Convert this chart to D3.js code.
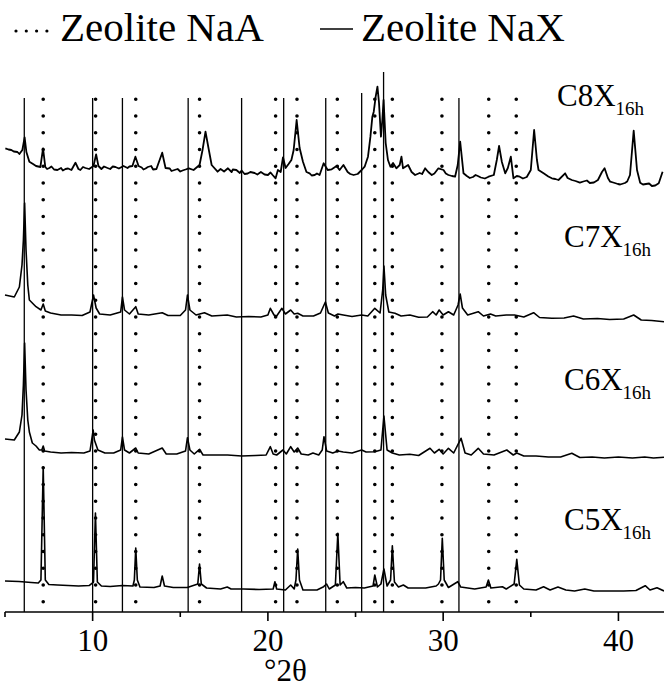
<!DOCTYPE html>
<meta charset="utf-8">
<style>
body { margin: 0; background: #fff; }
svg { display: block; }
.trace { fill: none; stroke: #000; stroke-width: 1.6px; stroke-linejoin: round; }
.trace.noisy { stroke-width: 1.8px; }
.nax { stroke: #000; stroke-width: 1.3px; }
.naa { stroke: #000; stroke-width: 3.6px; stroke-linecap: round; stroke-dasharray: 0 16.75; }
.axis line { stroke: #000; stroke-width: 1.6px; }
</style>
<svg width="664" height="688"></svg>
<script src="https://d3js.org/d3.v7.min.js"></script>
<script>
// reference line positions (deg 2theta)
var naxPeaks = [6.1, 10.0, 11.7, 15.45, 18.5, 20.9, 23.3, 25.35, 26.6, 30.9];
var naaPeaks = [7.18, 10.17, 12.46, 16.1, 20.44, 21.66, 23.96, 26.1, 27.1, 29.93, 32.6, 34.17];

var seriesNames = ["C5X", "C6X", "C7X", "C8X"];
var seriesSub = "16h";
var offsets = [0, 130, 265, 405];   // vertical stacking of patterns
var majorTicks = [10, 20, 30, 40];
var minorTicks = [5, 15, 25, 35];

// [2theta, intensity]
var c5 = [[5.0,31],[5.8,30.5],[6.5,29.5],[6.9,29],[7.05,32],[7.18,145],[7.3,32],[7.5,27.5],[8.0,27],[8.6,26.5],
  [9.2,26],[9.8,26.5],[10.05,30],[10.16,99],[10.27,30],[10.5,26],[11.0,25.5],[11.7,26.5],[12.3,26],[12.38,32],
  [12.46,64],[12.55,32],[12.7,25],[13.5,24.5],[13.85,26],[13.97,36],[14.1,26],[14.6,24.5],[15.4,24.5],[16.0,28],
  [16.1,48],[16.2,28],[16.5,24],[17.3,23],[17.68,25],[17.9,23],[18.6,23],[19.5,22.5],[20.3,23],[20.4,30.3],
  [20.5,23],[21.0,22],[21.3,27],[21.5,23],[21.6,32],[21.7,63],[21.8,32],[22.0,22],[22.8,22],[23.18,25.3],
  [23.35,28],[23.5,23],[23.85,27],[23.99,78.7],[24.12,27],[24.3,30.3],[24.5,24],[25.0,24.5],[25.5,24],[26.0,26],
  [26.1,37],[26.25,25],[26.45,28],[26.62,43],[26.8,26],[27.0,32],[27.1,66.3],[27.22,30],[27.45,25],[27.73,27],
  [28.0,24],[29.0,24],[29.6,26],[29.73,28],[29.85,32],[29.95,73.7],[30.06,32],[30.3,24.5],[30.83,30.3],[31.0,25],
  [31.8,23],[32.45,25],[32.58,32],[32.72,24],[33.38,25.3],[33.6,23],[34.05,28],[34.2,52.7],[34.35,27],[34.6,23],
  [35.3,22],[35.73,25.3],[36.1,22],[36.55,25],[37.0,22],[37.5,21],[38.08,23],[38.6,21],[39.5,21],[40.3,21],
  [41.0,21.5],[41.53,26.3],[41.8,22],[42.2,24.3],[42.6,21]];

var c6 = [[5.0,43],[5.53,42],[5.82,50],[5.97,67],[6.05,97],[6.12,139],[6.2,92],[6.3,62],[6.39,50],[6.56,39],
  [6.77,36],[6.96,32],[7.1,32],[7.18,36],[7.26,31],[7.6,30],[8.2,29],[8.8,29.5],[9.5,29],[9.85,31],
  [10.03,52],[10.1,42],[10.16,39],[10.3,32],[10.7,29],[11.2,29],[11.6,32],[11.7,45],[11.82,32],[12.1,29],
  [12.46,34],[12.6,29],[13.2,28],[13.97,34],[14.2,28],[14.8,28],[15.3,31],[15.41,44.3],[15.55,32],[15.8,28],
  [16.1,32.7],[16.3,27],[17.0,27],[17.7,27],[18.5,26],[19.3,26.5],[19.9,27],[20.14,35.3],[20.3,28],[20.5,27],
  [20.86,32],[21.05,28],[21.3,35.3],[21.5,30],[21.7,34],[21.9,28],[22.3,27],[22.57,29],[22.9,27],[23.1,32],
  [23.2,45.3],[23.35,31],[23.7,29],[24.0,31],[24.3,30],[24.8,29],[25.35,32],[25.6,30],[26.1,30.3],[26.45,32],
  [26.62,66],[26.8,32],[27.1,29],[27.5,27],[28.1,27.7],[28.6,26.5],[29.25,33.7],[29.5,29],[29.77,32.7],[30.0,28],
  [30.3,33.7],[30.6,29],[31.02,43.7],[31.25,29],[31.6,27],[32.0,33.7],[32.3,28],[32.9,27],[33.63,32],[34.0,27],
  [34.2,29],[34.6,26],[35.3,26],[36.0,25],[36.7,25],[37.34,28.7],[37.8,24.5],[38.5,25],[39.2,24],[40.0,25],
  [40.8,24],[41.5,25],[42.0,24],[42.6,24.7]];

var c7 = [[5.0,52],[5.53,50],[5.82,60],[5.97,82],[6.05,107],[6.12,144],[6.2,97],[6.3,62],[6.39,47],[6.77,40.3],
  [7.05,37],[7.18,43],[7.3,36],[7.6,34],[8.2,32],[8.8,32],[9.4,31.5],[9.85,35],[10.05,52],[10.2,39],
  [10.4,33],[11.0,32],[11.6,35],[11.7,50],[11.82,37],[12.1,33],[12.46,40.3],[12.6,33],[13.2,32],[13.97,34.3],
  [14.3,31.5],[15.0,31.5],[15.3,37],[15.41,52],[15.55,37],[15.9,32],[16.38,34.3],[16.8,31],[17.68,32],[18.2,30],
  [18.9,30.5],[19.6,30],[20.0,32],[20.14,38.7],[20.35,32],[20.5,31],[20.8,38.7],[21.0,33],[21.3,37],[21.5,33],
  [21.7,33.7],[22.0,31],[22.6,31],[23.0,34],[23.28,45],[23.45,34],[23.8,31],[24.0,33],[24.3,32],[24.8,30.5],
  [25.35,32],[25.7,31],[26.1,38.7],[26.4,34],[26.55,57],[26.62,81],[26.72,52],[26.9,35],[27.25,33.7],[27.6,31],
  [28.1,32],[28.6,29.7],[29.1,30],[29.4,35.3],[29.6,32],[29.77,37],[30.0,32],[30.3,35.3],[30.6,32],[30.85,42],
  [30.97,53],[31.1,39],[31.4,32],[32.0,35.3],[32.3,31],[32.7,33],[33.0,31],[33.6,32],[34.07,32],[34.6,30],
  [35.16,34.3],[35.5,29.5],[36.2,28.7],[36.9,29],[37.44,31],[38.0,28],[38.8,28.5],[39.5,27.5],[40.3,28],[40.87,32],
  [41.3,27],[41.9,26.5],[42.6,25.3]];

var c8 = [[5.02,58.7],[5.2,57.5],[5.36,57],[5.5,55.5],[5.71,55],[5.82,53],[5.99,57],[6.12,69.7],[6.22,55],[6.39,45.3],
  [6.6,43],[6.77,41],[7.02,40],[7.17,58.7],[7.3,40],[7.4,38],[7.53,39],[7.65,40.5],[7.8,37.5],[7.99,37],
  [8.2,39],[8.3,36.5],[8.45,38],[8.6,38.5],[8.79,37],[9.02,44.3],[9.19,38],[9.3,37],[9.45,40],[9.59,39],
  [9.8,38],[10.05,41],[10.2,52.7],[10.33,41],[10.5,38],[10.65,40.5],[10.85,39],[11.0,38],[11.15,40.5],[11.3,40],
  [11.5,38.5],[11.76,41],[11.99,39],[12.1,40.5],[12.27,41],[12.44,50.3],[12.62,41],[12.8,39.5],[12.9,37.5],[13.02,38.5],
  [13.15,40],[13.34,41],[13.45,37.5],[13.64,38],[13.97,54.3],[14.16,39],[14.4,38.5],[14.5,36],[14.67,37],[14.85,38],
  [15.0,35.5],[15.13,36.5],[15.3,37.5],[15.49,38.7],[15.76,37],[16.1,42],[16.27,57],[16.44,75.3],[16.61,59],[16.79,42],
  [17.13,35.3],[17.3,38],[17.5,35.5],[17.72,38.7],[17.93,35],[18.0,37.5],[18.2,37],[18.4,34],[18.5,36.5],[18.67,33],
  [18.85,33.5],[19.0,35],[19.24,34],[19.4,32.5],[19.6,35],[19.81,32.5],[20.0,32],[20.15,34.5],[20.27,32],[20.44,28.7],
  [20.57,37],[20.73,35],[20.86,49.7],[21.01,39],[21.18,43],[21.34,47],[21.47,57],[21.64,87],[21.81,59],[22.0,45.3],
  [22.2,35],[22.38,33.7],[22.5,31.5],[22.67,32],[22.8,33.5],[22.95,32],[23.18,43.7],[23.41,37],[23.64,37.7],[23.92,41],
  [24.09,37],[24.31,42],[24.55,35],[24.7,33],[24.89,32],[25.12,33],[25.35,37],[25.52,40.3],[25.71,50.3],[25.85,70.3],
  [25.96,90.3],[26.04,95.3],[26.15,110.3],[26.25,120.3],[26.34,104],[26.45,70.3],[26.53,87],[26.6,107],[26.72,64],[26.85,47],
  [26.99,40.3],[27.14,44],[27.33,38.7],[27.52,42],[27.62,50.3],[27.71,38.7],[28.0,42],[28.2,35],[28.4,32],[28.66,34],
  [28.8,33],[28.97,38.7],[29.15,35],[29.35,32],[29.5,33.5],[29.73,38.7],[30.02,37],[30.15,33.5],[30.3,32],[30.5,31],
  [30.68,30.3],[30.83,42],[30.97,65.3],[31.16,33.7],[31.35,31],[31.52,29],[31.7,30],[31.85,32],[31.98,31],[32.15,29.5],
  [32.38,28.5],[32.59,30.3],[32.89,32],[33.06,47],[33.19,61],[33.35,45],[33.54,33.7],[33.69,39],[33.86,50.3],[34.01,28.7],
  [34.2,31],[34.37,30.3],[34.55,28.5],[34.77,30],[35.0,37],[35.19,77],[35.35,47],[35.44,37],[35.73,33.7],[36.0,30.5],
  [36.2,28.7],[36.4,28],[36.58,27],[36.96,33.7],[37.1,29],[37.34,27],[37.55,26],[37.8,24.3],[38.0,25.5],[38.2,26.5],
  [38.37,24],[38.6,24.5],[38.83,27],[39.06,35],[39.21,38.7],[39.4,29],[39.53,25.3],[39.7,24.5],[39.97,23],[40.1,22.5],
  [40.37,24],[40.5,25.5],[40.66,32],[40.87,76.3],[41.06,37],[41.24,24.3],[41.4,22.5],[41.57,23],[41.75,23.5],[41.91,21],
  [42.1,21.5],[42.3,23.7],[42.52,35.3]];

var patterns = [c5, c6, c7, c8];

var svg = d3.select("svg"),
    axisY = 612,
    serif = "Liberation Serif";

var x = d3.scaleLinear().domain([5, 42.6]).range([5, 664]);
var y = d3.scaleLinear().domain([0, 540]).range([axisY, axisY - 540]);

// reference lines
svg.selectAll(".nax")
  .data(naxPeaks)
  .enter().append("line")
    .attr("class", "nax")
    .attr("x1", function(d) { return x(d); })
    .attr("x2", function(d) { return x(d); })
    .attr("y1", function(d) { return d === 26.6 ? 72 : (d === 25.35 ? 93 : 98); })
    .attr("y2", axisY);

svg.selectAll(".naa")
  .data(naaPeaks)
  .enter().append("line")
    .attr("class", "naa")
    .attr("x1", function(d) { return x(d); })
    .attr("x2", function(d) { return x(d); })
    .attr("y1", 99.3)
    .attr("y2", 603);

// patterns
var line = d3.line()
    .x(function(d) { return x(d[0]); });

svg.selectAll(".trace")
  .data(patterns)
  .enter().append("path")
    .attr("class", function(d, i) { return i === 3 ? "trace noisy" : "trace"; })
    .attr("d", function(d, i) {
      return line.y(function(p) { return y(p[1] + offsets[i]); })(d);
    });

// labels
var labelY = [530, 390, 247, 106];
var labels = svg.selectAll(".lbl")
  .data(seriesNames)
  .enter().append("text")
    .attr("class", "lbl")
    .style("font-family", serif)
    .attr("x", function(d, i) { return i === 3 ? 557 : 564; })
    .attr("y", function(d, i) { return labelY[i]; })
    .style("font-size", "31px");
labels.append("tspan").text(function(d) { return d; });
labels.append("tspan")
    .attr("dy", 9)
    .style("font-size", "19px")
    .text(seriesSub);

// x axis
var gx = svg.append("g")
    .attr("class", "axis")
    .attr("transform", "translate(0," + axisY + ")");
gx.append("line").attr("x1", 5).attr("x2", 664).attr("y1", 0).attr("y2", 0);
gx.selectAll(".major")
  .data(majorTicks)
  .enter().append("line")
    .attr("x1", function(d) { return x(d); })
    .attr("x2", function(d) { return x(d); })
    .attr("y1", 0).attr("y2", 9);
gx.selectAll(".minor")
  .data(minorTicks)
  .enter().append("line")
    .attr("x1", function(d) { return x(d); })
    .attr("x2", function(d) { return x(d); })
    .attr("y1", 0).attr("y2", 5);
gx.selectAll(".tlabel")
  .data(majorTicks)
  .enter().append("text")
    .style("font-family", serif)
    .attr("x", function(d) { return x(d); })
    .attr("y", 39)
    .attr("text-anchor", "middle")
    .style("font-size", "31px")
    .text(function(d) { return d; });

svg.append("text")
    .style("font-family", serif)
    .attr("x", x(21))
    .attr("y", 681)
    .attr("text-anchor", "middle")
    .style("font-size", "31px")
    .text("°2θ");

// legend
svg.append("line")
    .attr("x1", 16).attr("x2", 47).attr("y1", 31).attr("y2", 31)
    .style("stroke", "#000").style("stroke-width", "3.2px")
    .style("stroke-linecap", "round").style("stroke-dasharray", "0 10.3");
svg.append("text")
    .style("font-family", serif)
    .attr("x", 60).attr("y", 41)
    .style("font-size", "41px")
    .text("Zeolite NaA");
svg.append("line")
    .attr("x1", 320).attr("x2", 353).attr("y1", 29).attr("y2", 29)
    .style("stroke", "#000").style("stroke-width", "1.6px");
svg.append("text")
    .style("font-family", serif)
    .attr("x", 361).attr("y", 41)
    .style("font-size", "41px")
    .text("Zeolite NaX");
</script>
